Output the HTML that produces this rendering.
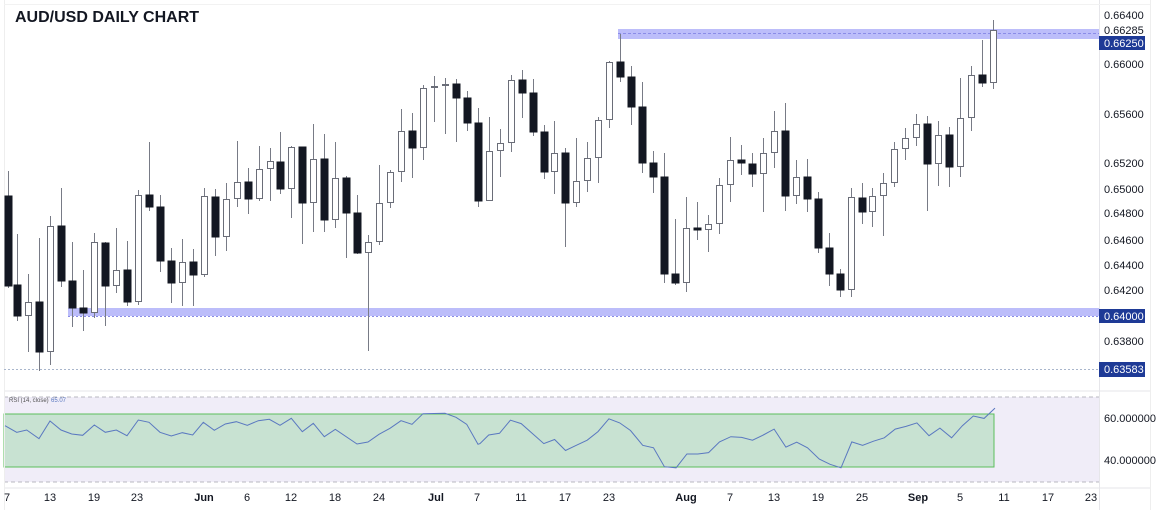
<!DOCTYPE html>
<html><head><meta charset="utf-8"><style>
html,body{margin:0;padding:0;background:#fff;}
body{width:1157px;height:514px;overflow:hidden;position:relative;font-family:"Liberation Sans",sans-serif;}
svg{position:absolute;left:0;top:0;}
</style></head><body>
<svg id="s" width="1157" height="514" xmlns="http://www.w3.org/2000/svg" font-family="Liberation Sans, sans-serif">
<rect x="0" y="0" width="1157" height="514" fill="#fff"/>
<!-- panes -->
<rect x="4" y="397" width="1095" height="85" fill="#f0edf8"/>
<line x1="4" y1="397" x2="1099" y2="397" stroke="#b8b8c0" stroke-dasharray="4,3"/>
<line x1="4" y1="482" x2="1099" y2="482" stroke="#b8b8c0" stroke-dasharray="4,3"/>
<rect x="4" y="414" width="990" height="53" fill="#c8e2d2" stroke="#5cbf5c" stroke-width="1"/>
<line x1="4" y1="391" x2="1150" y2="391" stroke="#e6e6ea"/>
<line x1="4" y1="488" x2="1150" y2="488" stroke="#e6e6ea"/>
<line x1="1099.5" y1="0" x2="1099.5" y2="510" stroke="#e6e6ea"/>
<line x1="4.5" y1="0" x2="4.5" y2="510" stroke="#eeeeee"/>
<line x1="1150.5" y1="0" x2="1150.5" y2="510" stroke="#eeeeee"/>
<line x1="4" y1="4.5" x2="1150" y2="4.5" stroke="#f2f2f2"/>
<!-- bands -->
<rect x="618" y="29" width="481" height="10" fill="#bcbdfa"/>
<line x1="618" y1="33.5" x2="1099" y2="33.5" stroke="#8a8ce8" stroke-dasharray="3,2"/>
<rect x="68" y="308" width="1031" height="8" fill="#bcbdfa"/>
<line x1="68" y1="316.5" x2="1099" y2="316.5" stroke="#8a8ce8" stroke-dasharray="2,2"/>
<line x1="4" y1="369.5" x2="1099" y2="369.5" stroke="#a9b6cc" stroke-dasharray="2,2"/>
<g id="c"></g>
<polyline id="rsi" fill="none" stroke="#5a78c0" stroke-width="1"/>
<text x="15" y="22" font-size="16" font-weight="bold" fill="#131722">AUD/USD DAILY CHART</text>
<text x="9" y="402" font-size="6" fill="#555">RSI (14, close)</text>
<text x="51" y="402" font-size="6" fill="#5a78c0">65.07</text>
<g font-size="11" fill="#131722">
<text x="1104" y="19">0.66400</text>
<text x="1104" y="34">0.66285</text>
<rect x="1099" y="36" width="46" height="14" fill="#1e3a96"/>
<text x="1104" y="47" fill="#fff">0.66250</text>
<text x="1104" y="68">0.66000</text>
<text x="1104" y="118">0.65600</text>
<text x="1104" y="167">0.65200</text>
<text x="1104" y="193">0.65000</text>
<text x="1104" y="217">0.64800</text>
<text x="1104" y="244">0.64600</text>
<text x="1104" y="269">0.64400</text>
<text x="1104" y="294">0.64200</text>
<rect x="1099" y="309" width="46" height="14" fill="#1e3a96"/>
<text x="1104" y="320" fill="#fff">0.64000</text>
<text x="1104" y="345">0.63800</text>
<rect x="1099" y="362" width="46" height="15" fill="#1e3a96"/>
<text x="1104" y="373" fill="#fff">0.63583</text>
<text x="1104" y="422">60.000000</text>
<text x="1104" y="464">40.000000</text>
</g>
<g font-size="11" fill="#131722" text-anchor="middle">
<text x="7" y="501">7</text><text x="50" y="501">13</text><text x="94" y="501">19</text><text x="137" y="501">23</text>
<text x="204" y="501" font-weight="bold">Jun</text><text x="247" y="501">6</text><text x="291" y="501">12</text><text x="335" y="501">18</text>
<text x="379" y="501">24</text><text x="436" y="501" font-weight="bold">Jul</text><text x="477" y="501">7</text><text x="521" y="501">11</text>
<text x="565" y="501">17</text><text x="609" y="501">23</text><text x="686" y="501" font-weight="bold">Aug</text><text x="730" y="501">7</text>
<text x="774" y="501">13</text><text x="818" y="501">19</text><text x="862" y="501">25</text><text x="918" y="501" font-weight="bold">Sep</text>
<text x="960" y="501">5</text><text x="1004" y="501">11</text><text x="1048" y="501">17</text><text x="1091" y="501">23</text>
</g>
</svg>
<script>
// x, high, top/open, close, low, bear(1)
var C=[
[8,171,196,286,288,1],[17,234,285,316,321,1],[28,274,302,316,352,0],[39,238,302,352,371,1],[50,216,226,352,365,0],
[61,188,226,281,287,1],[72,242,281,308,327,1],[83,270,308,313,331,1],[94,233,242,313,318,0],[105,242,243,286,326,1],
[116,228,270,286,293,0],[127,241,270,302,306,1],[138,190,195,302,305,0],[149,142,195,207,211,1],[160,195,207,261,272,1],
[171,248,261,283,303,1],[182,239,262,283,306,0],[193,249,262,275,306,1],[204,188,196,275,277,0],[215,189,197,237,256,1],
[226,183,199,237,251,0],[237,141,182,199,207,0],[248,168,182,199,214,1],[259,146,169,199,201,0],[270,148,161,169,201,0],
[280,132,162,189,194,1],[291,146,147,189,218,0],[302,147,147,203,244,1],[313,124,159,203,232,0],[324,134,159,220,232,1],
[335,142,178,220,228,0],[346,176,178,213,258,1],[357,195,213,253,254,1],[368,235,242,253,351,0],[379,165,203,242,245,0],
[390,170,172,203,208,0],[401,109,131,172,182,0],[412,113,131,148,178,1],[423,85,88,148,160,0],[434,76,86,88,122,0],
[445,78,84,86,134,0],[456,79,84,98,142,1],[467,91,98,123,131,1],[478,108,123,201,207,1],[489,117,151,201,201,0],
[500,129,143,151,177,0],[511,75,80,143,152,0],[522,70,80,93,118,1],[533,79,93,132,136,1],[544,125,132,172,179,1],
[554,121,153,172,194,0],[565,148,153,203,247,1],[576,138,181,203,207,0],[587,142,158,181,192,0],[598,117,120,158,183,0],
[609,61,62,120,128,0],[620,34,62,77,82,1],[631,66,77,107,125,1],[642,82,107,163,173,1],[653,151,163,177,193,1],
[664,153,177,274,283,1],[675,219,274,283,285,1],[686,197,228,283,292,0],[697,202,228,230,240,1],[708,215,224,230,252,0],
[719,178,185,224,234,0],[730,137,160,185,202,0],[741,145,160,163,175,1],[752,153,164,174,187,1],[763,138,153,174,212,0],
[774,111,131,153,168,0],[785,103,131,196,211,1],[796,160,177,196,204,0],[807,159,177,199,212,1],[818,192,199,248,253,1],
[829,233,248,274,286,1],[840,269,274,290,297,1],[851,188,197,290,297,0],[862,183,198,212,224,1],[872,188,196,212,227,0],
[883,173,183,196,236,0],[894,142,149,183,187,0],[905,128,138,149,160,0],[916,114,124,138,146,0],[927,116,124,164,211,1],
[938,121,135,164,186,0],[949,127,135,167,187,1],[960,78,118,167,177,0],[971,66,75,118,131,0],[982,40,75,83,87,1],
[993,20,30,83,89,0]];
var ns="http://www.w3.org/2000/svg",g=document.getElementById("c"),h="";
C.forEach(function(c){
 var x=c[0],t=Math.min(c[2],c[3]),b=Math.max(c[2],c[3]);if(b-t<2)b=t+2;
 h+='<line x1="'+(x+0.5)+'" y1="'+c[1]+'" x2="'+(x+0.5)+'" y2="'+c[4]+'" stroke="#787b86" stroke-width="1"/>';
 if(c[5]) h+='<rect x="'+(x-3)+'" y="'+t+'" width="7" height="'+(b-t)+'" fill="#131722" stroke="#131722" stroke-width="1"/>';
 else h+='<rect x="'+(x-2.5)+'" y="'+(t+0.5)+'" width="6" height="'+(b-t-1)+'" fill="#fff" stroke="#6a6d78" stroke-width="1"/>';
});
g.innerHTML=h;
var P=[];
[[15,137],[50,157],[80,150],[117,176],[150,123],[183,150],[215,162],[248,166],[283,135],[316,157],[349,150],[381,167],[415,120],[447,127],[480,157],[514,168],[547,158],[578,165],[610,127],[643,151],[676,132],[709,125],[742,136],[775,122],[808,118],[840,136],[874,115],[907,155],[940,130],[973,170],[1006,148],[1071,192],[1104,186],[1137,163],[1170,145],[1203,122],[1236,133],[1269,101],[1335,100],[1368,112],[1400,133],[1434,193]].forEach(function(p){P.push((p[0]/3).toFixed(1)+","+(p[1]/3+380).toFixed(1));});
[[0,170],[20,145],[45,140],[70,102],[95,112],[120,140],[147,170],[172,158],[197,190],[222,175],[247,160],[272,135],[297,98],[322,110],[347,132],[375,175],[400,182],[425,237],[452,240],[477,200],[502,200],[527,196],[552,165],[578,150],[603,152],[628,160],[653,145],[678,128],[705,180],[730,166],[755,182],[782,215],[807,230],[832,240],[857,165],[882,175],[907,163],[932,153],[957,128],[982,120],[1007,110],[1035,147],[1060,125],[1087,153],[1112,118],[1137,90],[1162,97],[1187,67]].forEach(function(p){P.push((p[0]/2.305+480).toFixed(1)+","+(p[1]/2.9+385).toFixed(1));});
document.getElementById("rsi").setAttribute("points",P.join(" "));
</script>
</body></html>
